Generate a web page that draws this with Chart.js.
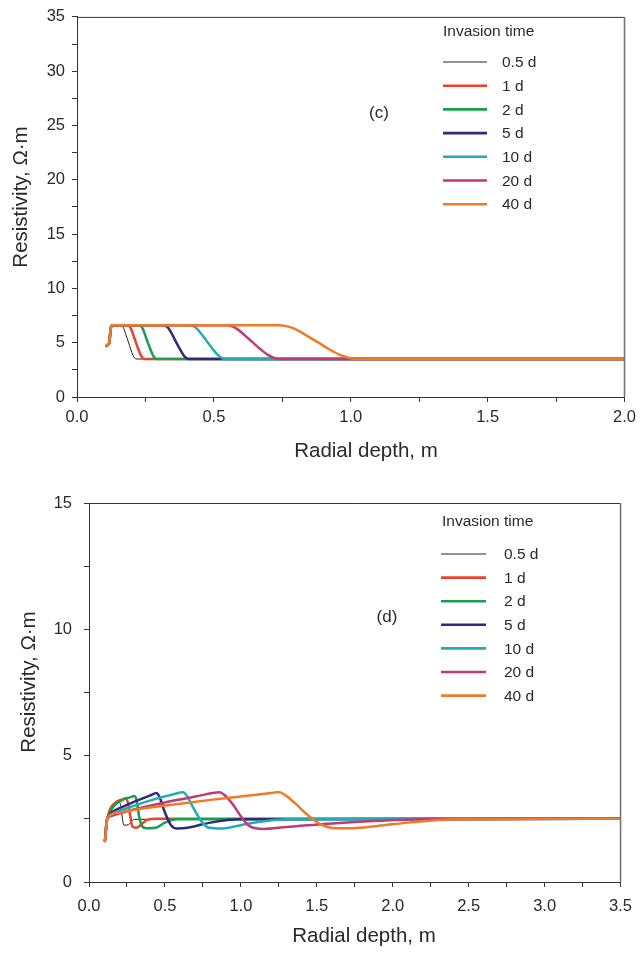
<!DOCTYPE html>
<html lang="en">
<head>
<meta charset="UTF-8">
<title>Resistivity vs radial depth</title>
<style>
    body { margin: 0; background: #fff; }
    .box { position: absolute; left: 0; width: 642px; }
    #boxC { top: 0; height: 470px; }
    #boxD { top: 470px; height: 490px; }
</style>
</head>
<body>
<div class="box" id="boxC"><canvas id="chartC"></canvas></div>
<div class="box" id="boxD"><canvas id="chartD"></canvas></div>
<script src="https://cdn.jsdelivr.net/npm/chart.js"></script>
<script>
const seriesNames = ['0.5 d', '1 d', '2 d', '5 d', '10 d', '20 d', '40 d'];
const seriesColors = ['#222222', '#e8442b', '#1a9f4b', '#2f2a7d', '#20aeb5', '#bf3a78', '#f07b24'];
const seriesWidths = [1, 2.5, 2.5, 2.5, 2.5, 2.5, 2.5];

// panel (c): radial depth (m) / resistivity (ohm.m)
const cX05 = [0.105, 0.112, 0.118, 0.121, 0.125, 0.13, 0.16, 0.164, 0.171, 0.179, 0.188, 0.196, 0.204, 0.211, 0.215, 2.0];
const cY05 = [4.65, 4.8, 5.0, 5.8, 6.5, 6.6, 6.6, 6.55, 6.3, 5.7, 5.05, 4.4, 3.85, 3.58, 3.5, 3.5];
const cX1 = [0.105, 0.112, 0.118, 0.121, 0.125, 0.13, 0.185, 0.19, 0.197, 0.206, 0.215, 0.224, 0.233, 0.24, 0.245, 2.0];
const cY1 = [4.65, 4.8, 5.0, 5.8, 6.5, 6.6, 6.6, 6.55, 6.3, 5.7, 5.05, 4.4, 3.85, 3.58, 3.5, 3.5];
const cX2 = [0.105, 0.112, 0.118, 0.121, 0.125, 0.13, 0.227, 0.232, 0.24, 0.249, 0.258, 0.268, 0.277, 0.285, 0.29, 2.0];
const cY2 = [4.65, 4.8, 5.0, 5.8, 6.5, 6.6, 6.6, 6.55, 6.3, 5.7, 5.05, 4.4, 3.85, 3.58, 3.5, 3.5];
const cX5 = [0.105, 0.112, 0.118, 0.121, 0.125, 0.13, 0.317, 0.324, 0.335, 0.349, 0.362, 0.376, 0.389, 0.4, 0.407, 2.0];
const cY5 = [4.65, 4.8, 5.0, 5.8, 6.5, 6.6, 6.6, 6.55, 6.3, 5.7, 5.05, 4.4, 3.85, 3.58, 3.5, 3.5];
const cX10 = [0.105, 0.112, 0.118, 0.121, 0.125, 0.13, 0.413, 0.423, 0.438, 0.457, 0.477, 0.496, 0.515, 0.53, 0.54, 2.0];
const cY10 = [4.65, 4.8, 5.0, 5.8, 6.5, 6.6, 6.6, 6.55, 6.3, 5.7, 5.05, 4.4, 3.85, 3.58, 3.5, 3.5];
const cX20 = [0.105, 0.112, 0.118, 0.121, 0.125, 0.13, 0.545, 0.56, 0.583, 0.612, 0.641, 0.67, 0.699, 0.722, 0.737, 2.0];
const cY20 = [4.65, 4.8, 5.0, 5.8, 6.5, 6.6, 6.6, 6.55, 6.3, 5.7, 5.05, 4.4, 3.85, 3.58, 3.5, 3.5];
const cX40 = [0.105, 0.112, 0.118, 0.121, 0.125, 0.13, 0.737, 0.76, 0.794, 0.836, 0.879, 0.921, 0.963, 0.997, 1.02, 2.0];
const cY40 = [4.65, 4.8, 5.0, 5.8, 6.5, 6.6, 6.6, 6.55, 6.3, 5.7, 5.05, 4.4, 3.85, 3.58, 3.5, 3.5];

// panel (d)
const dX05 = [0.1, 0.105, 0.11, 0.115, 0.12, 0.14, 0.17, 0.2, 0.21, 0.22, 0.23, 0.26, 0.28, 0.3, 3.5];
const dY05 = [1.6, 1.65, 1.95, 2.35, 2.5, 2.85, 3.05, 3.15, 3.0, 2.5, 2.25, 2.27, 2.4, 2.48, 2.5];
const dX1 = [0.1, 0.105, 0.11, 0.115, 0.12, 0.14, 0.17, 0.21, 0.245, 0.258, 0.272, 0.285, 0.31, 0.34, 0.38, 0.45, 3.5];
const dY1 = [1.6, 1.65, 1.95, 2.35, 2.5, 2.9, 3.12, 3.25, 3.3, 3.1, 2.6, 2.2, 2.15, 2.25, 2.45, 2.5, 2.5];
const dX2 = [0.1, 0.105, 0.11, 0.115, 0.12, 0.14, 0.18, 0.22, 0.27, 0.3, 0.315, 0.33, 0.35, 0.38, 0.44, 0.5, 0.58, 3.5];
const dY2 = [1.6, 1.65, 1.95, 2.35, 2.5, 2.8, 3.1, 3.25, 3.35, 3.4, 3.2, 2.6, 2.2, 2.13, 2.15, 2.35, 2.48, 2.5];
const dX5 = [0.1, 0.105, 0.11, 0.115, 0.12, 0.15, 0.2, 0.3, 0.4, 0.445, 0.465, 0.5, 0.54, 0.58, 0.65, 0.8, 1.0, 3.5];
const dY5 = [1.6, 1.65, 1.95, 2.35, 2.5, 2.75, 2.92, 3.18, 3.42, 3.52, 3.35, 2.75, 2.25, 2.12, 2.15, 2.35, 2.48, 2.5];
const dX10 = [0.1, 0.105, 0.11, 0.115, 0.12, 0.15, 0.25, 0.4, 0.55, 0.62, 0.645, 0.69, 0.74, 0.79, 0.88, 1.0, 1.15, 1.3, 3.5];
const dY10 = [1.6, 1.65, 1.95, 2.35, 2.5, 2.68, 2.92, 3.22, 3.46, 3.55, 3.4, 2.9, 2.4, 2.15, 2.12, 2.25, 2.4, 2.48, 2.5];
const dX20 = [0.1, 0.105, 0.11, 0.115, 0.12, 0.15, 0.3, 0.5, 0.7, 0.86, 0.89, 0.95, 1.0, 1.06, 1.15, 1.3, 1.6, 1.9, 2.2, 3.5];
const dY20 = [1.6, 1.65, 1.95, 2.35, 2.5, 2.62, 2.88, 3.15, 3.38, 3.55, 3.45, 3.05, 2.6, 2.2, 2.1, 2.18, 2.32, 2.42, 2.48, 2.5];
const dX40 = [0.1, 0.105, 0.11, 0.118, 0.125, 0.15, 0.2, 0.4, 0.6, 0.8, 1.0, 1.2, 1.25, 1.29, 1.36, 1.44, 1.52, 1.62, 1.72, 1.9, 2.1, 2.4, 3.5];
const dY40 = [1.6, 1.62, 1.9, 2.4, 2.55, 2.68, 2.75, 2.95, 3.1, 3.25, 3.38, 3.52, 3.56, 3.45, 3.1, 2.65, 2.3, 2.13, 2.13, 2.22, 2.35, 2.48, 2.5];

const FONT = '"Liberation Sans", Arial, sans-serif';
const INK = '#2a2a2a';

function pairs(xs, ys) {
    return xs.map((x, i) => ({ x: x, y: ys[i] }));
}

function buildSets(list) {
    return list.map((s, i) => ({
        label: seriesNames[i],
        data: pairs(s[0], s[1]),
        borderColor: seriesColors[i],
        borderWidth: seriesWidths[i],
        pointRadius: 0,
        fill: false,
        cubicInterpolationMode: 'monotone',
        order: list.length - i
    }));
}

// frame (top + right), axis titles, legend and panel tag drawn by hand
const panelPlugin = {
    id: 'panel',
    afterDraw(chart, args, o) {
        const { ctx, chartArea: a } = chart;
        ctx.save();
        ctx.strokeStyle = '#333';
        ctx.lineWidth = 1;
        ctx.beginPath();
        ctx.moveTo(a.left, a.top + 0.5);
        ctx.lineTo(a.right, a.top + 0.5);
        ctx.stroke();
        ctx.strokeStyle = '#777';
        ctx.lineWidth = 1.6;
        ctx.beginPath();
        ctx.moveTo(a.right, a.top);
        ctx.lineTo(a.right, a.bottom);
        ctx.stroke();

        ctx.fillStyle = INK;
        ctx.textBaseline = 'middle';
        ctx.textAlign = 'center';
        ctx.font = '20.5px ' + FONT;
        ctx.fillText('Radial depth, m', o.xTitle[0], o.xTitle[1]);
        ctx.save();
        ctx.translate(o.yTitle[0], o.yTitle[1]);
        ctx.rotate(-Math.PI / 2);
        ctx.fillText('Resistivity, Ω·m', 0, 0);
        ctx.restore();

        ctx.textAlign = 'left';
        ctx.font = '15.5px ' + FONT;
        ctx.fillText('Invasion time', o.titleX, o.titleY);
        seriesNames.forEach((name, i) => {
            const y = o.rowY + i * o.rowGap;
            ctx.strokeStyle = seriesColors[i];
            ctx.lineWidth = i === 0 ? 1 : 2.6;
            ctx.beginPath();
            ctx.moveTo(o.lineX0, y);
            ctx.lineTo(o.lineX1, y);
            ctx.stroke();
            ctx.fillText(name, o.textX, y + 1);
        });

        ctx.font = '17px ' + FONT;
        ctx.textAlign = 'center';
        ctx.fillText(o.tag, o.tagX, o.tagY);
        ctx.restore();
    }
};

function makeChart(id, sets, cfg) {
    const labelEvery = (step, digits) => function (v) {
        const k = v / step;
        return Math.abs(k - Math.round(k)) < 1e-6 ? v.toFixed(digits) : '';
    };
    return new Chart(document.getElementById(id), {
        type: 'line',
        data: { datasets: sets },
        plugins: [panelPlugin],
        options: {
            responsive: true,
            maintainAspectRatio: false,
            animation: false,
            layout: { padding: cfg.padding },
            plugins: {
                legend: { display: false },
                tooltip: { enabled: false },
                panel: cfg.panel
            },
            scales: {
                x: {
                    type: 'linear',
                    min: 0,
                    max: cfg.xMax,
                    afterFit: (s) => { s.height = cfg.xHeight; },
                    border: { color: '#333', width: 1 },
                    grid: { drawOnChartArea: false, tickLength: 5, color: '#333' },
                    ticks: {
                        stepSize: 0.25,
                        autoSkip: false,
                        maxRotation: 0,
                        padding: cfg.xTickPad,
                        color: INK,
                        font: { family: FONT, size: cfg.tickSize },
                        callback: labelEvery(0.5, 1)
                    }
                },
                y: {
                    min: 0,
                    max: cfg.yMax,
                    afterFit: (s) => { s.width = cfg.yWidth; },
                    border: { color: '#333', width: 1 },
                    grid: { drawOnChartArea: false, tickLength: 5, color: '#333' },
                    ticks: {
                        stepSize: 2.5,
                        autoSkip: false,
                        padding: cfg.yTickPad,
                        color: INK,
                        font: { family: FONT, size: cfg.tickSize },
                        callback: labelEvery(5, 0)
                    }
                }
            }
        }
    });
}

makeChart('chartC', buildSets([
    [cX05, cY05], [cX1, cY1], [cX2, cY2], [cX5, cY5], [cX10, cY10], [cX20, cY20], [cX40, cY40]
]), {
    xMax: 2.0, yMax: 35,
    padding: { top: 16, right: 10, left: 0, bottom: 0 },
    xHeight: 73, yWidth: 77,
    xTickPad: 6, yTickPad: 7, tickSize: 16.5,
    panel: {
        xTitle: [366, 451], yTitle: [21, 197],
        titleX: 443, titleY: 32, rowY: 62, rowGap: 23.7,
        lineX0: 443, lineX1: 487, textX: 502,
        tag: '(c)', tagX: 379, tagY: 113
    }
});

makeChart('chartD', buildSets([
    [dX05, dY05], [dX1, dY1], [dX2, dY2], [dX5, dY5], [dX10, dY10], [dX20, dY20], [dX40, dY40]
]), {
    xMax: 3.5, yMax: 15,
    padding: { top: 33, right: 19, left: 0, bottom: 0 },
    xHeight: 78, yWidth: 89,
    xTickPad: 10, yTickPad: 12, tickSize: 16.5,
    panel: {
        xTitle: [364, 466], yTitle: [29, 212],
        titleX: 442, titleY: 52, rowY: 84, rowGap: 23.6,
        lineX0: 441, lineX1: 486, textX: 504,
        tag: '(d)', tagX: 387, tagY: 147
    }
});
</script>
</body>
</html>
